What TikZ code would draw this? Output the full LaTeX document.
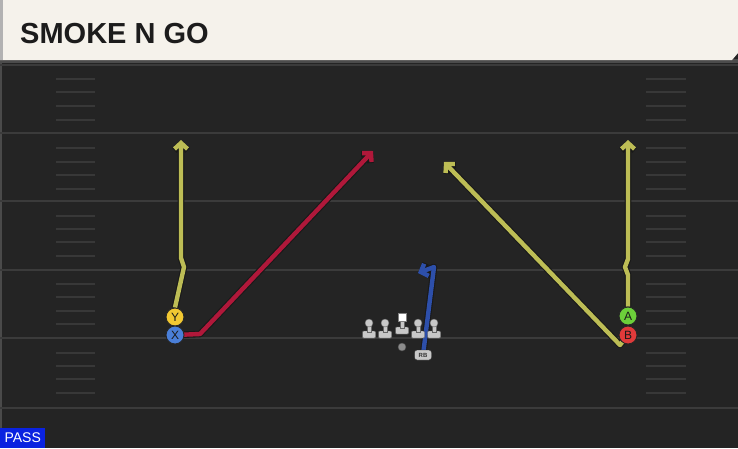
\documentclass[tikz,border=0pt]{standalone}
\usepackage{fontspec}
\setmainfont{Liberation Sans}
\usetikzlibrary{arrows.meta}
\definecolor{fieldbg}{HTML}{242424}
\definecolor{yardcol}{HTML}{3B3B3B}
\definecolor{hashcol}{HTML}{383838}
\definecolor{cream}{HTML}{F5F2EB}
\definecolor{titlecol}{HTML}{1C1C1C}
\definecolor{yellowroute}{HTML}{BDBD55}
\definecolor{redroute}{HTML}{B0183A}
\definecolor{blueroute}{HTML}{2D4FAA}
\definecolor{ycol}{HTML}{F2C832}
\definecolor{xcol}{HTML}{4A7FD8}
\definecolor{acol}{HTML}{6CCF3A}
\definecolor{bcol}{HTML}{E03A3A}
\definecolor{passblue}{HTML}{0A22E0}
\definecolor{olcol}{HTML}{C8C8C8}
\definecolor{edgecol}{HTML}{4A4A4A}
\pgfdeclarelayer{field}
\pgfdeclarelayer{routes}
\pgfsetlayers{field,routes,main}
\begin{document}
\begin{tikzpicture}[x=1pt,y=-1pt,
  yard/.style={draw=yardcol,line width=2pt},
  hashmark/.style={draw=hashcol,line width=1.5pt},
  route/.style={line width=4.4pt,line join=round,
    -{Straight Barb[length=6pt,width=13pt,line width=4.4pt]},
    preaction={draw=black!90,line width=6.6pt,line join=round,
    -{Straight Barb[length=6pt,width=13pt,line width=6.6pt]}}},
  player/.style={circle,draw=black!85,line width=0.9pt,minimum size=18pt,inner sep=0pt,
    font=\fontsize{12}{12}\selectfont,text=black!90},
  olhead/.style={circle,fill=olcol,draw=black!60,line width=0.4pt,minimum size=8pt,inner sep=0pt},
  olpart/.style={fill=olcol,draw=black!60,line width=0.4pt,rounded corners=1pt}
]
\useasboundingbox (0,0) rectangle (738,448);
\begin{pgfonlayer}{field}
\fill[fieldbg] (0,0) rectangle (738,448);
\fill[edgecol] (0,63) rectangle (2,428);
\draw[yard] (0,65) -- (738,65);
\foreach \yy in {133,201,270,338,408} \draw[yard] (0,\yy) -- (738,\yy);
\foreach \yy in {79,92,106,120,148,162,175,189,216,229,242,256,284,297,311,324,353,366,379,393} {
  \draw[hashmark] (56,\yy) -- (95,\yy);
  \draw[hashmark] (646,\yy) -- (686,\yy);
}
\fill[black!70] (0,59) rectangle (738,63);
\fill[cream] (0,0) -- (738,0) -- (738,53) -- (732,60) -- (0,60) -- cycle;
\fill[black!30] (0,0) rectangle (3,60);
\end{pgfonlayer}

\node[anchor=base west,inner sep=0pt,font=\fontsize{29}{29}\selectfont\bfseries,text=titlecol] (title) at (20,43) {SMOKE N GO};

\node[anchor=south west,fill=passblue,text=white,inner sep=0pt,minimum width=45pt,minimum height=20pt,
  font=\fontsize{14}{14}\selectfont] (pass) at (0,448) {PASS};

% players
\node[player,fill=ycol] (Y) at (175,317) {Y};
\node[player,fill=xcol] (X) at (175,335) {X};
\node[player,fill=acol] (A) at (628,316) {A};
\node[player,fill=bcol] (B) at (628,335) {B};
\node[draw=black!85,fill=olcol,rounded corners=2.5pt,minimum width=17pt,minimum height=10pt,inner sep=0pt,
  font=\fontsize{6}{6}\selectfont\bfseries,text=black!80] (RB) at (423,355) {RB};
\node[circle,fill=black!45,draw=black!70,line width=0.4pt,minimum size=8pt,inner sep=0pt] (ball) at (402,347) {};

% offensive line
\foreach \xx/\nm in {369/lt,385/lg,418/rg,434/rt} {
  \fill[olpart] (\xx-6.5,331) rectangle (\xx+6.5,338);
  \fill[olpart,rounded corners=0pt] (\xx-2,324) rectangle (\xx+2,332);
  \node[olhead] (\nm) at (\xx,323) {};
}
\fill[olpart] (395.5,327) rectangle (408.5,334);
\fill[olpart,rounded corners=0pt] (400,320) rectangle (404,328);
\node[fill=white,draw=black!50,line width=0.4pt,minimum size=8pt,inner sep=0pt] (center) at (402,317) {};

% routes
\coordinate (yb1) at (184,267);
\coordinate (yb2) at (181,258);
\coordinate (yend) at (181,140);
\coordinate (xb1) at (200,334);
\coordinate (xend) at (373,151);
\coordinate (ab1) at (628,275);
\coordinate (ab2) at (625,267);
\coordinate (ab3) at (628,259);
\coordinate (aend) at (628,140);
\coordinate (bb1) at (620,345);
\coordinate (bend) at (444,162);
\coordinate (rb1) at (434,267);
\coordinate (rbend) at (418,273);
\begin{pgfonlayer}{routes}
\draw[route,yellowroute] (Y.north) -- (yb1) -- (yb2) -- (yend);
\draw[route,redroute] (X.center) -- (xb1) -- (xend);
\draw[route,yellowroute] (A.north) -- (ab1) -- (ab2) -- (ab3) -- (aend);
\draw[route,yellowroute] (B.center) -- (bb1) -- (bend);
\draw[route,blueroute] (RB.center) -- (rb1) -- (rbend);
\end{pgfonlayer}
\end{tikzpicture}
\end{document}
